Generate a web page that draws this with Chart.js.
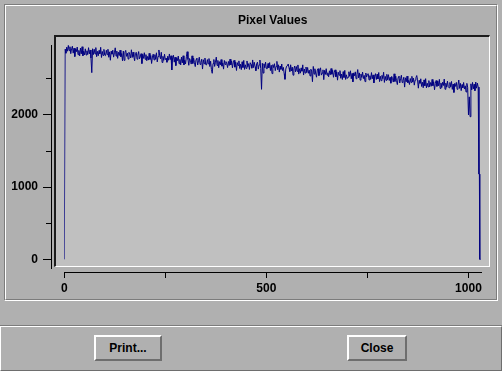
<!DOCTYPE html>
<html>
<head>
<meta charset="utf-8">
<script src="https://cdn.jsdelivr.net/npm/chart.js@4.4.0/dist/chart.umd.min.js"></script>
<style>
  html, body { margin: 0; padding: 0; }
  body { width: 502px; height: 371px; background: #b0b0b0; position: relative; overflow: hidden;
         font-family: "Liberation Sans", Arial, sans-serif; }
  .abs { position: absolute; box-sizing: border-box; }
  #etchOuter { left: 4px; top: 4px; width: 494px; height: 297px;
               border-top: 1px solid #7c7c7c; border-left: 1px solid #7c7c7c;
               border-bottom: 1px solid #ffffff; border-right: 1px solid #ffffff; }
  #etchInner { left: 5px; top: 5px; width: 492px; height: 295px;
               border-top: 1px solid #ffffff; border-left: 1px solid #ffffff;
               border-bottom: 1px solid #7c7c7c; border-right: 1px solid #7c7c7c; }
  #plotBox { left: 54px; top: 35px; width: 436px; height: 232px; background: #c0c0c0;
             border-top: 2px solid #1c1c1c; border-left: 2px solid #1c1c1c;
             border-bottom: 1px solid #ffffff; border-right: 1px solid #ffffff; }
  #sepLine { left: 0; top: 325px; width: 502px; height: 1px; background: #7c7c7c; }
  #bottomPanel { left: 0; top: 326px; width: 502px; height: 45px;
                 border-top: 1px solid #ffffff; border-left: 1px solid #ffffff;
                 border-bottom: 1px solid #6e6e6e; border-right: 1px solid #6e6e6e; }
  .btn { top: 335px; height: 26px; background: #b0b0b0;
         border-top: 2px solid #ffffff; border-left: 2px solid #ffffff;
         border-bottom: 2px solid #6e6e6e; border-right: 2px solid #6e6e6e;
         font: bold 12px "Liberation Sans", Arial, sans-serif; color: #000;
         text-align: center; line-height: 22px; }
  #btnPrint { left: 94px; width: 68px; }
  #btnClose { left: 347px; width: 60px; }
  #chartWrap { left: 0; top: 0; width: 502px; height: 300px; }
</style>
</head>
<body>
<div class="abs" id="etchOuter"></div>
<div class="abs" id="etchInner"></div>
<div class="abs" id="plotBox"></div>
<div class="abs" id="sepLine"></div>
<div class="abs" id="bottomPanel"></div>
<div class="abs btn" id="btnPrint">Print...</div>
<div class="abs btn" id="btnClose">Close</div>
<div class="abs" id="chartWrap"><canvas id="c" width="502" height="300"></canvas></div>
<script>
// ---------------- data ----------------
const chartTitle = 'Pixel Values';
const SAMPLE_STEP = 2; // pixelValues[i] is the value at pixel index i*SAMPLE_STEP
const pixelValues = [
  0,
  2910, 2854, 2938, 2882, 2962, 2890, 2944, 2848, 2917, 2951, 2855, 2924, 2808, 2917, 2876, 2940, 2834, 2893, 2817, 2926, 2845, 2944, 2818, 2882, 2831,
  2915, 2829, 2888, 2837, 2931, 2845, 2899, 2788, 2585, 2916, 2835, 2909, 2843, 2932, 2806, 2880, 2819, 2893, 2847, 2936, 2795, 2879, 2823, 2907, 2831,
  2820, 2895, 2834, 2909, 2798, 2873, 2757, 2882, 2841, 2896, 2800, 2860, 2929, 2814, 2883, 2783, 2867, 2822, 2896, 2806, 2850, 2750, 2884, 2755, 2868,
  2893, 2811, 2855, 2773, 2867, 2840, 2788, 2902, 2795, 2869, 2807, 2750, 2849, 2867, 2771, 2829, 2877, 2776, 2804, 2848, 2711, 2839, 2783, 2861, 2770,
  2835, 2750, 2809, 2759, 2853, 2768, 2822, 2712, 2802, 2841, 2761, 2835, 2770, 2860, 2734, 2809, 2899, 2823, 2777, 2867, 2726, 2811, 2755, 2840, 2765,
  2785, 2729, 2813, 2757, 2844, 2765, 2819, 2622, 2792, 2826, 2730, 2799, 2683, 2792, 2751, 2815, 2709, 2768, 2692, 2801, 2720, 2819, 2693, 2757, 2706,
  2805, 2875, 2768, 2687, 2781, 2755, 2704, 2818, 2712, 2786, 2725, 2669, 2768, 2787, 2691, 2750, 2799, 2698, 2727, 2771, 2635, 2764, 2708, 2787, 2696,
  2692, 2766, 2706, 2780, 2670, 2744, 2628, 2576, 2712, 2767, 2671, 2730, 2800, 2684, 2754, 2653, 2737, 2692, 2766, 2675, 2720, 2634, 2754, 2698, 2738,
  2711, 2655, 2740, 2684, 2772, 2693, 2748, 2652, 2722, 2756, 2661, 2730, 2615, 2724, 2684, 2748, 2643, 2702, 2627, 2736, 2656, 2755, 2630, 2694, 2644,
  2747, 2666, 2710, 2629, 2723, 2697, 2647, 2761, 2655, 2729, 2668, 2612, 2711, 2730, 2634, 2693, 2760, 2642, 2354, 2715, 2579, 2708, 2652, 2731, 2640,
  2638, 2712, 2651, 2725, 2614, 2688, 2572, 2696, 2655, 2709, 2613, 2672, 2741, 2625, 2694, 2593, 2677, 2631, 2705, 2614, 2658, 2572, 2493, 2635, 2674,
  2680, 2705, 2652, 2601, 2694, 2608, 2662, 2550, 2639, 2677, 2596, 2670, 2603, 2692, 2565, 2639, 2578, 2651, 2605, 2693, 2552, 2636, 2579, 2663, 2586,
  2657, 2576, 2620, 2539, 2633, 2607, 2460, 2671, 2565, 2639, 2578, 2522, 2621, 2640, 2544, 2603, 2652, 2551, 2580, 2624, 2488, 2617, 2561, 2640, 2550,
  2583, 2527, 2611, 2555, 2642, 2563, 2617, 2521, 2590, 2624, 2528, 2597, 2481, 2590, 2549, 2613, 2507, 2566, 2490, 2599, 2518, 2617, 2491, 2555, 2504,
  2523, 2597, 2536, 2611, 2500, 2574, 2458, 2582, 2542, 2596, 2500, 2559, 2628, 2513, 2582, 2481, 2565, 2519, 2594, 2503, 2547, 2461, 2580, 2525, 2564,
  2570, 2484, 2543, 2492, 2586, 2500, 2554, 2443, 2532, 2571, 2490, 2564, 2498, 2587, 2461, 2535, 2474, 2548, 2502, 2591, 2450, 2534, 2478, 2562, 2486,
  2557, 2476, 2520, 2439, 2533, 2506, 2455, 2569, 2463, 2537, 2476, 2420, 2519, 2538, 2442, 2501, 2549, 2448, 2477, 2521, 2385, 2514, 2458, 2537, 2446,
  2477, 2421, 2504, 2448, 2534, 2455, 2508, 2412, 2481, 2514, 2545, 2486, 2370, 2478, 2437, 2500, 2394, 2453, 2376, 2485, 2403, 2502, 2375, 2439, 2388,
  2475, 2389, 2448, 2397, 2491, 2405, 2459, 2348, 2437, 2476, 2395, 2469, 2403, 2492, 2366, 2440, 2379, 2453, 2407, 2496, 2355, 2439, 2383, 2467, 2391,
  2375, 2449, 2389, 2463, 2353, 2427, 2311, 2436, 2395, 2450, 2354, 2413, 2483, 2367, 2437, 2336, 2420, 2375, 2449, 2358, 2403, 2317, 2437, 2381, 2000,
  2250, 1975, 2430, 2345, 2450, 2360, 2425, 2335, 2455, 2370, 2440, 2385
];
const tailIndex  = [1026, 1027, 1028, 1030];
const tailValues = [1180, 1180, 0, 0];

const xTickValues = [0, 250, 500, 750, 1000];
const xTickLabels = ['0', '', '500', '', '1000'];
const yMajorTicks = [0, 1000, 2000];
const yMajorLabels = ['0', '1000', '2000'];
const yMinorTicks = [500, 1500, 2500];

const X_MIN = 0, X_MAX = 1031;
const Y_MIN = -120, Y_MAX = 2968;
const Y_AXIS_AT_X = -32;     // y axis line drawn left of the x=0 start
const Y_LABELS_AT_X = -65;   // y tick labels right edge
const X_AXIS_AT_Y = -180;    // x axis line drawn below the plot

// ---------------- build ----------------
const points = pixelValues.map((v, i) => ({ x: i * SAMPLE_STEP, y: v }))
  .concat(tailIndex.map((x, i) => ({ x: x, y: tailValues[i] })));

const FONT = { family: '"Liberation Sans", Arial, sans-serif', size: 12, weight: 'bold' };
const setTicks = arr => (axis => { axis.ticks = arr.map(v => ({ value: v })); });

new Chart(document.getElementById('c'), {
  type: 'line',
  data: {
    datasets: [{
      data: points,
      borderColor: '#000080',
      borderWidth: 1,
      pointRadius: 0,
      tension: 0,
      fill: false
    }]
  },
  options: {
    responsive: false,
    animation: false,
    devicePixelRatio: 1,
    layout: { padding: { left: 64.3, right: 21, top: 0, bottom: 32 } },
    plugins: {
      legend: { display: false },
      tooltip: { enabled: false },
      title: {
        display: true,
        text: chartTitle,
        color: '#000',
        font: FONT,
        padding: { top: 13.8, bottom: 16.8 }
      }
    },
    scales: {
      x: {
        type: 'linear', axis: 'x',
        position: { y: X_AXIS_AT_Y },
        min: X_MIN, max: X_MAX,
        afterBuildTicks: setTicks(xTickValues),
        ticks: {
          color: '#000', font: FONT, padding: 4, maxRotation: 0, autoSkip: false,
          callback: v => { const k = xTickValues.indexOf(v); return k >= 0 ? xTickLabels[k] : ''; }
        },
        grid: { display: true, drawOnChartArea: false, drawTicks: true, tickLength: 5, color: '#000', lineWidth: 1 },
        border: { display: true, color: '#000', width: 1 }
      },
      y: {
        type: 'linear', axis: 'y',
        position: { x: Y_AXIS_AT_X },
        min: Y_MIN, max: Y_MAX,
        afterBuildTicks: setTicks(yMajorTicks),
        ticks: { display: false },
        grid: { display: true, drawOnChartArea: false, drawTicks: true, tickLength: 8, color: '#000', lineWidth: 1 },
        border: { display: true, color: '#000', width: 1 }
      },
      yMinor: {
        type: 'linear', axis: 'y',
        position: { x: Y_AXIS_AT_X },
        min: Y_MIN, max: Y_MAX,
        afterBuildTicks: setTicks(yMinorTicks),
        ticks: { display: false },
        grid: { display: true, drawOnChartArea: false, drawTicks: true, tickLength: 5, color: '#000', lineWidth: 1 },
        border: { display: false }
      },
      yLabels: {
        type: 'linear', axis: 'y',
        position: { x: Y_LABELS_AT_X },
        min: Y_MIN, max: Y_MAX,
        afterBuildTicks: setTicks(yMajorTicks),
        ticks: {
          color: '#000', font: FONT, padding: 0, autoSkip: false,
          callback: v => { const k = yMajorTicks.indexOf(v); return k >= 0 ? yMajorLabels[k] : ''; }
        },
        grid: { display: false, drawTicks: false },
        border: { display: false }
      }
    }
  }
});
</script>
</body>
</html>
